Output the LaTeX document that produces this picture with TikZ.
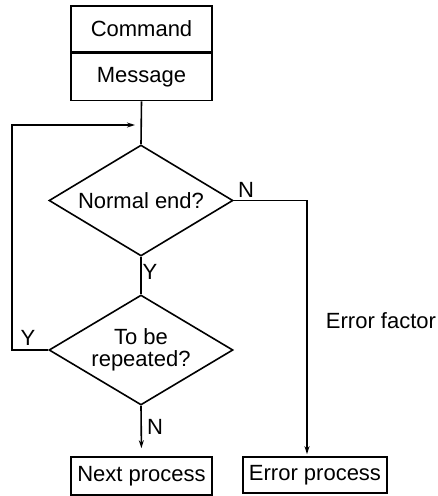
\documentclass[tikz,border=0pt]{standalone}
\usepackage{fontspec}
\setmainfont{Liberation Sans}
\usetikzlibrary{shapes.geometric,arrows.meta}
\begin{document}
\begin{tikzpicture}[x=1pt,y=-1pt,line width=1.6pt,
  every node/.style={font=\fontsize{22}{22}\selectfont},
  box/.style={draw,rectangle,inner sep=0pt},
  dia/.style={draw,diamond,inner sep=0pt,aspect=1.66},
  arr/.style={-{Stealth[length=8pt,width=5pt]}}]
\useasboundingbox (0,0) rectangle (438,496);
\node[box,minimum width=141pt,minimum height=46pt] (cmd) at (141.5,29) {Command};
\node[box,minimum width=141pt,minimum height=47pt,anchor=north] (msg) at (cmd.south) {Message};
\node[dia,minimum width=184pt,minimum height=111pt,label=center:Normal end?] (d1) at (141,200.5) {};
\node[dia,minimum width=184pt,minimum height=110pt,label={[align=center]center:To be\\repeated?}] (d2) at (141,350) {};
\node[box,minimum width=141pt,minimum height=38pt] (np) at (141.5,476) {Next process};
\node[box,minimum width=144pt,minimum height=36pt] (ep) at (315,475) {Error process};
\coordinate (join) at (141,125);
\coordinate (loop) at (12,125);
\coordinate (ecorner) at (307,200.5);
\draw (msg.south) -- (d1.north);
\draw (d1.south) -- (d2.north);
\draw[arr,shorten >=8pt] (d2.south) -- (np.north);
\draw[arr,shorten >=6pt] (d2.west) -| (loop) -- (join);
\draw[arr,shorten >=2pt] (d1.east) -- (ecorner) -- (ecorner |- ep.north);
\node (n1) at (246,190) {N};
\node (y1) at (150,272) {Y};
\node (y2) at (28,338) {Y};
\node (n2) at (155,427) {N};
\node (ef) at (381,321) {Error factor};
\end{tikzpicture}
\end{document}
